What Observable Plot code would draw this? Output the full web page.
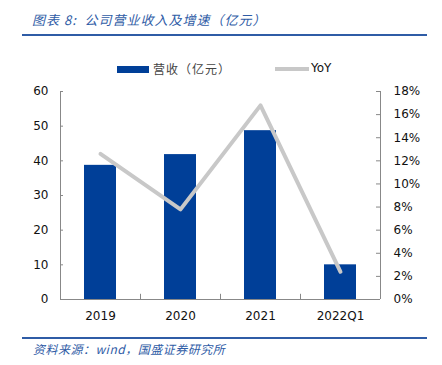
<!DOCTYPE html>
<html>
<head>
<meta charset="utf-8">
<script src="https://cdn.jsdelivr.net/npm/d3@7"></script>
<script src="https://cdn.jsdelivr.net/npm/@observablehq/plot@0.6"></script>
<style>
  body { margin: 0; background: #fff; }
  #wrap { position: relative; width: 442px; height: 365px; overflow: hidden; background: #fff; }
  #wrap svg { position: absolute; left: 0; top: 0; }
  .cjk { font-family: "Noto Sans CJK SC", "DejaVu Sans", sans-serif; }
  #title { position: absolute; left: 32px; top: 10px; font-size: 13px; font-style: italic; color: #2f5ca6; white-space: nowrap; letter-spacing: 1px; }
  .hline { position: absolute; left: 22px; width: 405px; height: 2px; background: #2f5ca6; }
  #src { position: absolute; left: 33px; top: 340px; font-size: 12px; font-style: italic; color: #2f5ca6; white-space: nowrap; letter-spacing: 0.5px; }
  .legend { position: absolute; top: 60px; font-size: 12px; color: #222; white-space: nowrap; }
</style>
</head>
<body>
<div id="wrap">
  <div id="title" class="cjk">图表 8:&nbsp; 公司营业收入及增速（亿元）</div>
  <div class="hline" style="top:34px"></div>
  <div class="legend" style="left:117px; top:66px; width:32px; height:7px; background:#003f98"></div>
  <div class="legend cjk" style="left:153px; top:60px; color:#444; letter-spacing:1px;">营收（亿元）</div>
  <div class="legend" style="left:275px; top:67px; width:34px; height:4px; background:#c8c8c8"></div>
  <div class="legend" style="left:311px; top:61px; font-family:'DejaVu Sans',sans-serif; font-size:12px; color:#111;">YoY</div>
  <div class="hline" style="top:337px"></div>
  <div id="src" class="cjk">资料来源：wind，国盛证券研究所</div>
</div>
<script>
const categories = ["2019", "2020", "2021", "2022Q1"];
const revenue = [38.7, 41.8, 48.7, 10.0];      // 亿元
const yoy = [12.6, 7.8, 16.8, 2.4];            // %
const leftTicks = [0, 10, 20, 30, 40, 50, 60];
const rightTicks = [0, 2, 4, 6, 8, 10, 12, 14, 16, 18];

const yMax = 60, rMax = 18;
const toLeft = v => v * yMax / rMax;

const rows = categories.map((c, i) => ({cat: c, rev: revenue[i], yoy: yoy[i]}));

const chart = Plot.plot({
  width: 442,
  height: 365,
  marginLeft: 60,
  marginRight: 62,
  marginTop: 91,
  marginBottom: 66,
  style: {fontFamily: "'DejaVu Sans', sans-serif", fontSize: "11px", color: "#111", background: "transparent"},
  x: {domain: categories, paddingInner: 0.6, paddingOuter: 0.3, label: null},
  y: {domain: [0, yMax], label: null},
  marks: [
    Plot.barY(rows, {x: "cat", y: "rev", fill: "#003f98"}),
    Plot.line(rows, {x: "cat", y: d => toLeft(d.yoy), stroke: "#c8c8c8", strokeWidth: 4, strokeLinejoin: "round", strokeLinecap: "round"}),
    // frame lines
    Plot.ruleY([0], {stroke: "#888", strokeWidth: 1}),
    Plot.ruleX([0], {x: () => categories[0], dx: -40, y1: 0, y2: yMax, stroke: "#888"}),
    Plot.ruleX([0], {x: () => categories[categories.length - 1], dx: 40, y1: 0, y2: yMax, stroke: "#888"}),
    // category separator ticks
    Plot.ruleX(categories.slice(1), {x: d => d, dx: -40, y1: 0, y2: 1.5, stroke: "#888"}),
    // small inward tick marks on both value axes
    Plot.tickY(leftTicks, {y: d => d, insetRight: 317, stroke: "#888"}),
    Plot.tickY(rightTicks.map(toLeft), {y: d => d, insetLeft: 316, stroke: "#888"}),
    Plot.axisX({tickSize: 0, tickPadding: 12, fontSize: 12, label: null}),
    Plot.axisY({ticks: leftTicks, tickSize: 0, tickPadding: 12, fontSize: 12, label: null}),
    Plot.axisY({anchor: "right", ticks: rightTicks.map(toLeft), tickFormat: d => Math.round(d * rMax / yMax) + "%", tickSize: 0, tickPadding: 13, fontSize: 12, label: null})
  ]
});
document.getElementById("wrap").prepend(chart);
</script>
</body>
</html>
